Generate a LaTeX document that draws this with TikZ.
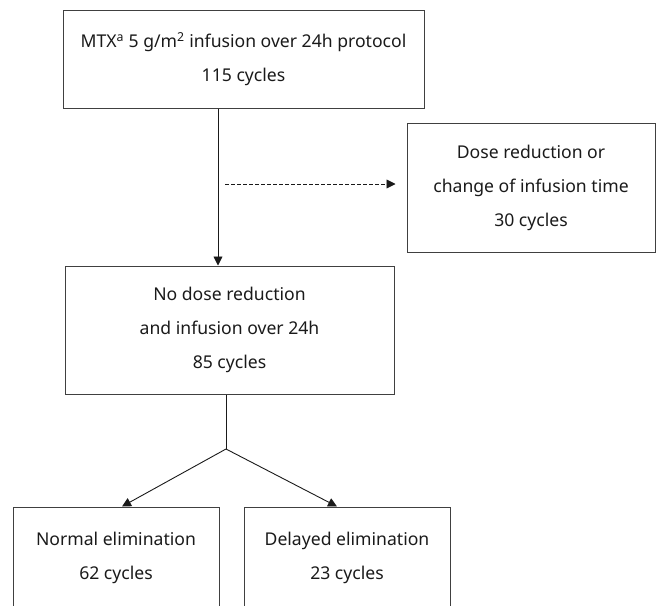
\documentclass[tikz,border=0pt]{standalone}
\usepackage{fontspec}
\setmainfont{Noto Sans}
\usetikzlibrary{arrows.meta}
\definecolor{edge}{HTML}{404040}
\definecolor{ink}{HTML}{1A1A1A}
\begin{document}
\begin{tikzpicture}[x=1pt,y=-1pt,
  box/.style={draw=edge, line width=1pt, inner sep=0pt, align=center,
    text=ink, font=\fontsize{17.6}{34}\selectfont},
  link/.style={draw=ink, line width=0.9pt},
  arr/.style={link, -{Triangle[length=9pt,width=9pt]}},
  dasharr/.style={arr, dash pattern=on 4pt off 2pt}]
\useasboundingbox (0,0) rectangle (660,605);
\clip (0,0) rectangle (660,605);

% boxes
\node[box, minimum width=361pt, minimum height=98pt] (top) at (243.5,59)
  {MTX\textsuperscript{a} 5 g/m\textsuperscript{2} infusion over 24h protocol\\115 cycles};
\node[box, minimum width=248pt, minimum height=129pt] (alt) at (531,187.5)
  {Dose reduction or\\change of infusion time\\30 cycles};
\node[box, minimum width=329pt, minimum height=128pt] (mid) at (229.5,330)
  {No dose reduction\\and infusion over 24h\\85 cycles};
\node[box, minimum width=206pt, minimum height=102pt] (normal) at (116,558)
  {Normal elimination\\62 cycles};
\node[box, minimum width=206pt, minimum height=102pt] (delayed) at (347,558)
  {Delayed elimination\\23 cycles};

% helper points
\coordinate (vx) at (218,0);
\coordinate (dstart) at (225,184);
\coordinate (fork) at (226,449);

% connectors
\draw[arr] (top.south -| vx) -- (mid.north -| vx);
\draw[dasharr] (dstart) -- ([xshift=-11pt]alt.west |- dstart);
\draw[link] (mid.south -| fork) -- (fork);
\draw[arr] (fork) -- ([xshift=6pt]normal.north);
\draw[arr] (fork) -- ([xshift=-10pt]delayed.north);
\end{tikzpicture}
\end{document}
